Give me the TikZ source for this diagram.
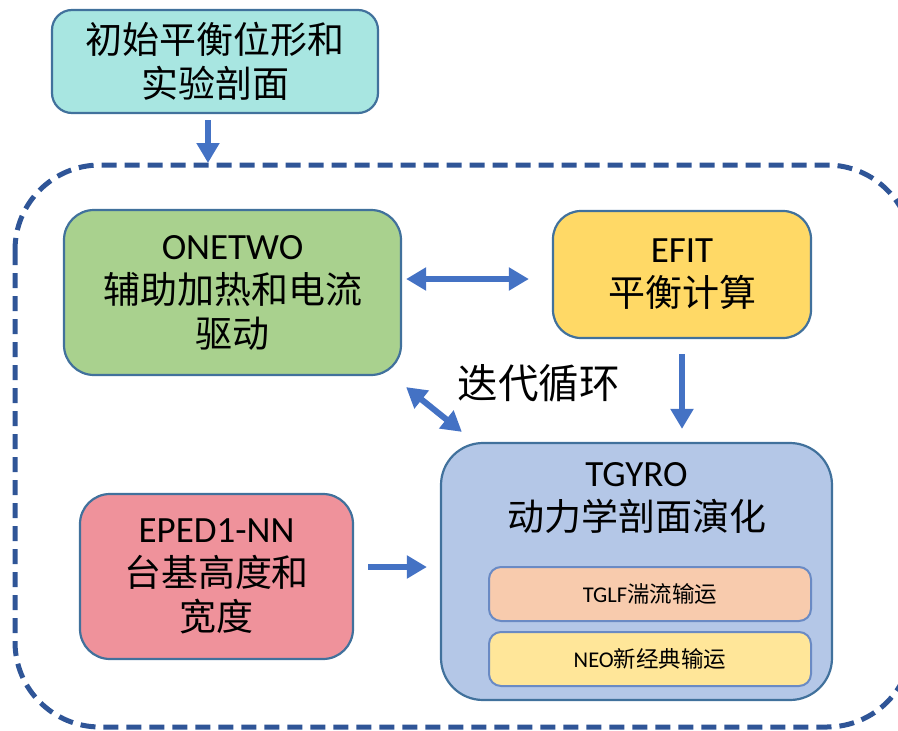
\documentclass[tikz,border=0pt]{standalone}
\usepackage{fontspec}
\setmainfont{Carlito}
\newfontfamily\cjk{Noto Sans CJK SC}
\usetikzlibrary{arrows.meta}
\definecolor{cyanfill}{HTML}{A8E6E1}
\definecolor{greenfill}{HTML}{A9D18E}
\definecolor{yellowfill}{HTML}{FFD966}
\definecolor{bluefill}{HTML}{B4C7E7}
\definecolor{pinkfill}{HTML}{EF929B}
\definecolor{peachfill}{HTML}{F8CBAD}
\definecolor{paleyellow}{HTML}{FFE699}
\definecolor{boxline}{HTML}{41719C}
\definecolor{innerline}{HTML}{6A8AC4}
\definecolor{dashcol}{HTML}{2F5597}
\definecolor{arrcol}{HTML}{4472C4}
\tikzset{
  bigbox/.style={draw=boxline, line width=2.2pt, align=center, inner sep=0pt,
    font=\fontsize{37}{44}\selectfont},
  smallbox/.style={draw=innerline, line width=2pt, rounded corners=12pt, align=center, inner sep=0pt,
    minimum width=322pt, minimum height=54pt, font=\fontsize{22.5}{26}\selectfont},
  bigtext/.style={align=center, inner sep=0pt, font=\fontsize{37}{44}\selectfont},
  arr/.style={draw=arrcol, line width=6pt, -{Triangle[length=20pt,width=22pt]}},
  dblarr/.style={draw=arrcol, line width=6pt, {Triangle[length=20pt,width=22pt]}-{Triangle[length=20pt,width=22pt]}},
  dashbox/.style={draw=dashcol, line width=5pt, dash pattern=on 15pt off 8pt, rounded corners=85pt}
}
\begin{document}
\begin{tikzpicture}[x=1pt,y=-1pt]
\useasboundingbox (0,0) rectangle (898,731);
\begin{scope}
\clip (0,0) rectangle (898,731);
\draw[dashbox] (15,165) rectangle (912,727);
\end{scope}
\coordinate (dtop) at (208,163);

\node[bigbox, fill=cyanfill, rounded corners=20pt, minimum width=326pt, minimum height=103pt]
  (init) at (215,61.5) {{\cjk 初始平衡位形和}\\{\cjk 实验剖面}};
\node[bigbox, fill=greenfill, rounded corners=30pt, minimum width=337pt, minimum height=165pt]
  (onetwo) at (232.5,292.5) {ONETWO\\{\cjk 辅助加热和电流}\\{\cjk 驱动}};
\node[bigbox, fill=yellowfill, rounded corners=28pt, minimum width=258pt, minimum height=127pt]
  (efit) at (682,274.5) {EFIT\\{\cjk 平衡计算}};
\node[bigbox, fill=bluefill, rounded corners=42pt, minimum width=391pt, minimum height=257pt]
  (tgyro) at (636.5,571.5) {};
\node[bigtext] (tgyrot) at (636.5,498.5) {TGYRO\\{\cjk 动力学剖面演化}};
\node[bigbox, fill=pinkfill, rounded corners=30pt, minimum width=273pt, minimum height=165pt]
  (eped) at (216.5,576.5) {EPED1-NN\\{\cjk 台基高度和}\\{\cjk 宽度}};
\node[smallbox, fill=peachfill] (tglf) at (650,594) {TGLF{\cjk 湍流输运}};
\node[smallbox, fill=paleyellow] (neo) at (650,659) {NEO{\cjk 新经典输运}};
\node[inner sep=0pt, font=\fontsize{40.5}{46}\selectfont] (loop) at (538.5,383) {\cjk 迭代循环};

\draw[arr] ([xshift=-7pt,yshift=-6pt]init.south) -- (dtop);
\draw[dblarr] ([xshift=4pt,yshift=13.5pt]onetwo.east) -- ([xshift=-23pt,yshift=-4.5pt]efit.west);
\draw[dblarr] ([xshift=4pt,yshift=-11pt]onetwo.south east) -- ([xshift=22pt,yshift=10pt]tgyro.north west);
\draw[arr] ([yshift=-15pt]efit.south) -- ([yshift=13pt]efit.south |- tgyro.north);
\draw[arr] ([xshift=14pt,yshift=9.5pt]eped.east) -- ([xshift=-13pt,yshift=4.5pt]tgyro.west);
\end{tikzpicture}
\end{document}
